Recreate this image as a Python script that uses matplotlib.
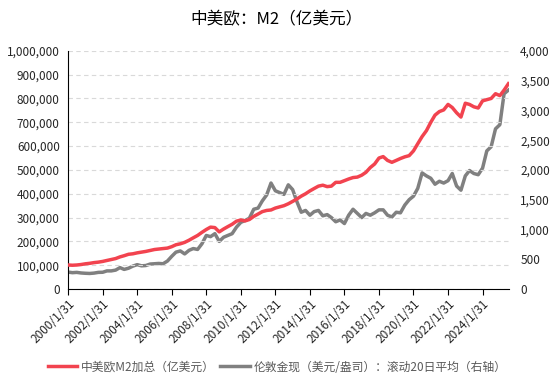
import numpy as np
import pandas as pd
from matplotlib import pyplot as plt
from matplotlib.ticker import FuncFormatter

plt.rcParams['font.family'] = ['Noto Sans CJK SC', 'DejaVu Sans']

# quarterly month-end observations, 2000/1/31 .. 2025/7/31
dates = pd.date_range('2000-01-31', periods=103, freq='3ME')

# 中美欧M2加总（亿美元）, thousands
m2_k = [
    101, 100, 101, 103,
    106, 108, 111, 113,
    116, 120, 124, 128,
    135, 140, 146, 148,
    152, 155, 158, 162,
    166, 168, 170, 172,
    178, 186, 190, 196,
    205, 215, 225, 238,
    250, 260, 258, 240,
    252, 262, 272, 285,
    290, 286, 292, 305,
    315, 325, 330, 332,
    340, 345, 350, 358,
    368, 378, 390, 400,
    412, 422, 432, 436,
    430, 432, 448, 448,
    455, 462, 468, 470,
    478, 490, 510, 525,
    550, 556, 540, 532,
    540, 548, 555, 560,
    580, 610, 640, 665,
    700, 730, 745, 752,
    775, 762, 740, 722,
    780, 775, 765, 760,
    790, 795, 800, 820,
    812, 835, 862,
]

# 伦敦金现（美元/盎司）：滚动20日平均
gold = [
    285, 275, 280, 270,
    265, 262, 268, 280,
    282, 305, 305, 318,
    360, 330, 350, 385,
    410, 390, 395, 420,
    425, 430, 425, 470,
    550, 620, 640, 590,
    650, 680, 665, 760,
    900, 880, 930, 800,
    870, 900, 930, 1040,
    1120, 1150, 1190, 1340,
    1360, 1480, 1580, 1780,
    1650, 1620, 1590, 1750,
    1670, 1470, 1290, 1320,
    1240, 1300, 1320, 1230,
    1250, 1200, 1130, 1160,
    1100, 1240, 1340, 1270,
    1200, 1270, 1240, 1280,
    1330, 1330, 1240, 1210,
    1290, 1280, 1410, 1500,
    1560, 1690, 1950, 1900,
    1860, 1760, 1810, 1780,
    1820, 1940, 1730, 1660,
    1900, 1990, 1940, 1920,
    2030, 2320, 2390, 2690,
    2760, 3280, 3340,
]

m2 = np.array(m2_k) * 1000

red = '#F2434F'
grey = '#808080'

fig = plt.figure(figsize=(5.54, 3.88), dpi=100)
ax = fig.add_axes([0.123, 0.255, 0.796, 0.614])
ax2 = ax.twinx()

l1, = ax.plot(dates, m2, color=red, lw=2.5, zorder=3)
l2, = ax2.plot(dates, gold, color=grey, lw=2.5)
ax.set_zorder(ax2.get_zorder() + 1)
ax.patch.set_visible(False)

ax.set_ylim(0, 1000000)
ax.set_yticks(np.arange(0, 1000001, 100000))
ax.yaxis.set_major_formatter(FuncFormatter(lambda v, p: f'{int(v):,}'))
ax2.set_ylim(0, 4000)
ax2.set_yticks(np.arange(0, 4001, 500))
ax2.yaxis.set_major_formatter(FuncFormatter(lambda v, p: f'{int(v):,}'))

xt = [pd.Timestamp(f'{y}-01-31') for y in range(2000, 2025, 2)]
ax.set_xticks(xt)
ax.set_xticklabels([f'{d.year}/{d.month}/{d.day}' for d in xt], rotation=45,
                   ha='right', rotation_mode='anchor', fontsize=8.5)
ax.set_xlim(pd.Timestamp('2000-01-31'), pd.Timestamp('2025-08-15'))

ax.grid(axis='y', ls=(0, (4, 3)), color='#d9d9d9', lw=0.8)
ax.set_axisbelow(True)
for a in (ax, ax2):
    a.spines['top'].set_visible(False)
    a.spines['right'].set_visible(False)
ax2.spines['left'].set_visible(False)
ax2.spines['bottom'].set_visible(False)
ax.tick_params(axis='y', length=0, labelsize=8.5, pad=6, labelcolor='#262626')
ax2.tick_params(axis='y', length=0, labelsize=8.5, pad=8, labelcolor='#262626')
ax.tick_params(axis='x', length=4, direction='out', pad=2, labelcolor='#262626')

fig.suptitle('中美欧：M2（亿美元）', x=0.5, y=0.97, fontsize=12)
leg = fig.legend([l1, l2], ['中美欧M2加总（亿美元）', '伦敦金现（美元/盎司）：滚动20日平均（右轴）'],
                 loc='center', bbox_to_anchor=(0.5, 0.054), ncol=2, frameon=False,
                 fontsize=8.5, handlelength=2.5, columnspacing=0.5, handletextpad=0.3)
for t in leg.get_texts():
    t.set_color('#595959')

fig.savefig('out.png', dpi=100)
